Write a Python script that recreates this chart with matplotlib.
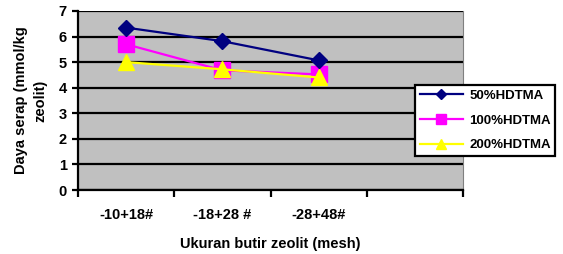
import matplotlib

matplotlib.use("Agg")
import matplotlib.pyplot as plt

plt.rcParams["font.family"] = ["Liberation Sans", "DejaVu Sans"]
plt.rcParams["font.weight"] = "bold"

categories = ["-10+18#", "-18+28 #", "-28+48#", ""]
hdtma_50 = [6.35, 5.82, 5.07]
hdtma_100 = [5.70, 4.68, 4.52]
hdtma_200 = [5.00, 4.72, 4.40]

fig = plt.figure(figsize=(5.63, 2.54), dpi=100)
ax = fig.add_axes([78 / 563, 64 / 254, 385 / 563, 179 / 254])
ax.set_facecolor("#c0c0c0")

x = list(range(len(hdtma_50)))
ax.plot(x, hdtma_50, color="#000080", marker="D", markersize=8, lw=1.6,
        label="50%HDTMA", zorder=5)
ax.plot(x, hdtma_100, color="#ff00ff", marker="s", markersize=11, lw=1.6,
        label="100%HDTMA", zorder=4)
ax.plot(x, hdtma_200, color="#ffff00", marker="^", markersize=11, lw=1.6,
        label="200%HDTMA", zorder=6)

ax.set_xlim(-0.5, len(categories) - 0.5)
ax.set_ylim(0, 7)
ax.set_yticks(range(0, 8))
ax.set_xticks(range(len(categories)))
ax.set_xticklabels(categories, fontsize=10.5, fontweight="bold")
ax.set_xticks([i - 0.5 for i in range(len(categories) + 1)], minor=True)
ax.tick_params(axis="x", which="major", length=0, pad=13)
ax.tick_params(axis="x", which="minor", length=5, width=1.6, direction="out")
ax.tick_params(axis="y", length=4, width=1.6, direction="out", labelsize=10.5,
               pad=4)
for lbl in ax.get_yticklabels():
    lbl.set_fontweight("bold")

ax.yaxis.grid(True, color="black", lw=1.6)
ax.set_axisbelow(True)
for side in ("left", "bottom"):
    ax.spines[side].set_linewidth(1.6)
ax.spines["top"].set_visible(False)
ax.spines["right"].set_color("#808080")

ax.set_ylabel("Daya serap (mmol/kg\nzeolit)", fontsize=10.5, fontweight="bold",
              labelpad=8, linespacing=1.5)
ax.set_xlabel("Ukuran butir zeolit (mesh)", fontsize=10.5, fontweight="bold",
              labelpad=11)

leg = ax.legend(loc="upper left", bbox_to_anchor=(415 / 563, 169 / 254),
                bbox_transform=fig.transFigure, borderaxespad=0, fontsize=9.5,
                fancybox=False, framealpha=1, edgecolor="black",
                handlelength=3.3, handletextpad=0.45, labelspacing=0.95,
                borderpad=0.35, markerscale=0.7)
leg.get_frame().set_linewidth(1.6)
for t in leg.get_texts():
    t.set_fontweight("bold")

fig.savefig("out.png", dpi=100)
